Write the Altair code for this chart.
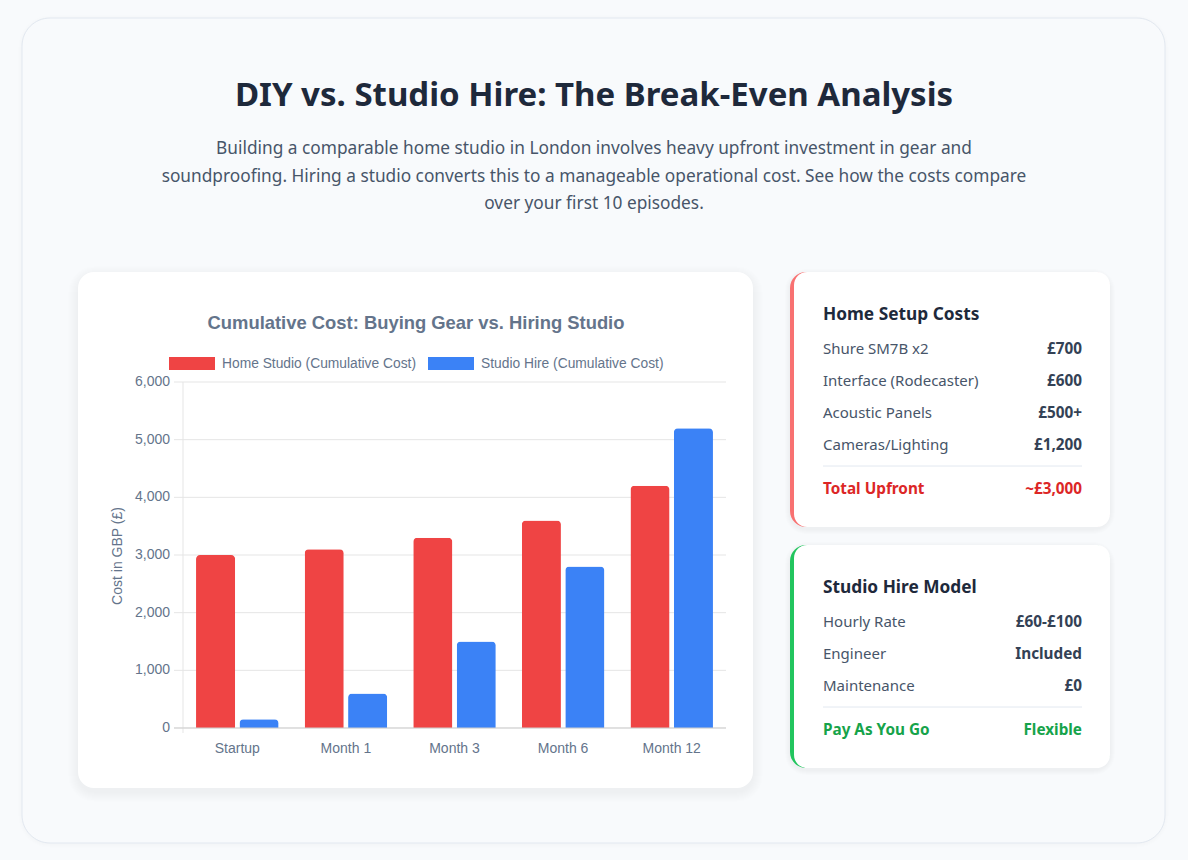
import altair as alt
import pandas as pd

# ---------------- data ----------------
categories = ["Startup", "Month 1", "Month 3", "Month 6", "Month 12"]
home_values = [3000, 3100, 3300, 3600, 4200]
studio_values = [150, 600, 1500, 2800, 5200]
series_names = ["Home Studio (Cumulative Cost)", "Studio Hire (Cumulative Cost)"]
series_colors = ["#ef4444", "#3b82f6"]
y_ticks = [0, 1000, 2000, 3000, 4000, 5000, 6000]
y_tick_labels = ["0", "1,000", "2,000", "3,000", "4,000", "5,000", "6,000"]

page_title = "DIY vs. Studio Hire: The Break-Even Analysis"
page_subtitle = [
    "Building a comparable home studio in London involves heavy upfront investment in gear and",
    "soundproofing. Hiring a studio converts this to a manageable operational cost. See how the costs compare",
    "over your first 10 episodes.",
]
chart_title = "Cumulative Cost: Buying Gear vs. Hiring Studio"
y_title = "Cost in GBP (£)"

home_card_title = "Home Setup Costs"
home_items = ["Shure SM7B x2", "Interface (Rodecaster)", "Acoustic Panels", "Cameras/Lighting"]
home_prices = ["£700", "£600", "£500+", "£1,200"]
home_total = ["Total Upfront", "~£3,000"]

studio_card_title = "Studio Hire Model"
studio_items = ["Hourly Rate", "Engineer", "Maintenance"]
studio_prices = ["£60-£100", "Included", "£0"]
studio_total = ["Pay As You Go", "Flexible"]

# ---------------- helpers ----------------
PAGE_FONT = "Noto Sans"
CHART_FONT = "Liberation Sans"
one = alt.Data(values=[{}])


def box(x1, y1, x2, y2, fill, radius=0, stroke=None, sw=0, opacity=1.0):
    kw = dict(fill=fill, cornerRadius=radius, opacity=opacity)
    if stroke:
        kw.update(stroke=stroke, strokeWidth=sw)
    return alt.Chart(one).mark_rect(**kw).encode(
        x=alt.value(x1), x2=alt.value(x2), y=alt.value(y1), y2=alt.value(y2)
    )


def label(s, x, y, size, color, weight="normal", align="left", font=PAGE_FONT, angle=0):
    kw = dict(text=s, fontSize=size, color=color, fontWeight=weight, align=align,
              baseline="middle", font=font)
    if angle:
        kw["angle"] = angle
    return alt.Chart(one).mark_text(**kw).encode(x=alt.value(x), y=alt.value(y))


def shadow(x1, y1, x2, y2, radius, dy=4, n=8, alpha=0.012):
    out = []
    for i in range(n, 0, -1):
        out.append(box(x1 - i, y1 - i + dy, x2 + i, y2 + i + dy, "#0f172a",
                       radius=radius + i, opacity=alpha))
    return out


layers = []

# outer container
layers += shadow(22, 18, 1165, 843, 28, dy=1, n=4, alpha=0.005)
layers.append(box(22, 18, 1165, 843, "#f8fafc", radius=28, stroke="#e2e8f0", sw=1))

# header
layers.append(label(page_title, 594, 96, 33, "#1e293b", weight="bold", align="center"))
for i, line in enumerate(page_subtitle):
    layers.append(label(line, 594, 149 + i * 27.5, 17.3, "#475569", align="center"))

# chart card
layers += shadow(78, 272, 753, 788, 16, dy=4, n=10, alpha=0.0055)
layers.append(box(78, 272, 753, 788, "#ffffff", radius=16))

layers.append(label(chart_title, 416, 323, 18.4, "#64748b", weight="bold", align="center", font=CHART_FONT))

# legend
legend_x = [169, 428]
for name, col, lx in zip(series_names, series_colors, legend_x):
    layers.append(box(lx, 357, lx + 46, 370, col))
    layers.append(label(name, lx + 53, 363.5, 13.8, "#64748b", font=CHART_FONT))

# ---------------- bar chart through scales ----------------
x_scale = alt.Scale(domain=categories, range=[183, 726], paddingInner=0.2, paddingOuter=0.1)
y_scale = alt.Scale(domain=[0, 6000], range=[728, 382], nice=False, zero=True)

bars_df = pd.DataFrame({
    "category": categories * 2,
    "series": [series_names[0]] * len(categories) + [series_names[1]] * len(categories),
    "value": home_values + studio_values,
})
ticks_df = pd.DataFrame({"tick": y_ticks, "tick_label": y_tick_labels})
cats_df = pd.DataFrame({"category": categories})

grid = alt.Chart(ticks_df).mark_rule(color="#e5e5e5", strokeWidth=1).encode(
    y=alt.Y("tick:Q", scale=y_scale, axis=None),
    x=alt.value(174), x2=alt.value(726),
)
yaxis_line = alt.Chart(one).mark_rule(color="#e5e5e5", strokeWidth=1).encode(
    x=alt.value(183), y=alt.value(382), y2=alt.value(733)
)
bars = alt.Chart(bars_df).mark_bar(
    cornerRadiusTopLeft=4, cornerRadiusTopRight=4
).encode(
    x=alt.X("category:N", scale=x_scale, axis=None, sort=categories),
    xOffset=alt.XOffset("series:N", sort=series_names,
                        scale=alt.Scale(paddingInner=0.1, paddingOuter=0.05)),
    y=alt.Y("value:Q", scale=y_scale, axis=None),
    color=alt.Color("series:N", scale=alt.Scale(domain=series_names, range=series_colors), legend=None),
)
base_line = alt.Chart(ticks_df[ticks_df["tick"] == 0]).mark_rule(color="#cfcfcf", strokeWidth=1).encode(
    y=alt.Y("tick:Q", scale=y_scale, axis=None),
    x=alt.value(174), x2=alt.value(726),
)
ytick_text = alt.Chart(ticks_df).mark_text(
    align="right", baseline="middle", fontSize=14, color="#64748b", font=CHART_FONT
).encode(
    y=alt.Y("tick:Q", scale=y_scale, axis=None),
    x=alt.value(170),
    text="tick_label:N",
)
xcat_text = alt.Chart(cats_df).mark_text(
    align="center", baseline="middle", fontSize=14, color="#64748b", font=CHART_FONT
).encode(
    x=alt.X("category:N", scale=x_scale, axis=None, sort=categories),
    y=alt.value(749),
    text="category:N",
)
layers += [grid, yaxis_line, bars, base_line, ytick_text, xcat_text]
layers.append(label(y_title, 118, 556, 14, "#64748b", font=CHART_FONT, align="center", angle=270))

# ---------------- side cards ----------------
def side_card(top, bottom, accent, title, items, prices, total, total_color):
    out = []
    out += shadow(790, top, 1110, bottom, 16, dy=2, n=5, alpha=0.006)
    out.append(box(790, top, 1110, bottom, accent, radius=16))
    out.append(box(794, top, 1110, bottom, "#ffffff", radius=13))
    out.append(box(800, top, 1110, bottom, "#ffffff", radius=16))
    ty = top + 43
    out.append(label(title, 823, ty, 17.3, "#1e293b", weight="bold"))
    y = ty + 34
    for it, pr in zip(items, prices):
        out.append(label(it, 823, y, 15, "#475569"))
        out.append(label(pr, 1082, y, 15.3, "#334155", weight="bold", align="right"))
        y += 32
    div_y = y - 11
    out.append(alt.Chart(one).mark_rule(color="#e2e8f0", strokeWidth=1).encode(
        x=alt.value(823), x2=alt.value(1082), y=alt.value(div_y)))
    out.append(label(total[0], 823, div_y + 23, 15.3, total_color, weight="bold"))
    out.append(label(total[1], 1082, div_y + 23, 15.3, total_color, weight="bold", align="right"))
    return out


layers += side_card(272, 527, "#f87171", home_card_title, home_items, home_prices, home_total, "#dc2626")
layers += side_card(545, 768, "#22c55e", studio_card_title, studio_items, studio_prices, studio_total, "#16a34a")

chart = alt.layer(*layers).properties(
    width=1188, height=860, background="#f8fafc", padding=0, autosize="none"
).configure_view(stroke=None)

chart.save("out.html", embed_options={"renderer": "svg", "actions": False})
